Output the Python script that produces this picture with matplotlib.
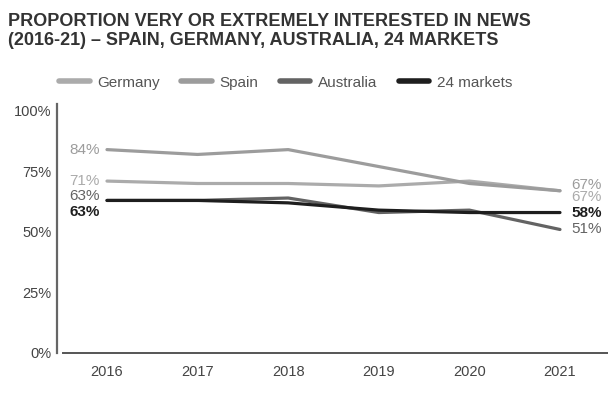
import matplotlib.pyplot as plt

plt.rcParams['font.family'] = ['Liberation Sans', 'DejaVu Sans']

years = [2016, 2017, 2018, 2019, 2020, 2021]
germany = [71, 70, 70, 69, 71, 67]
spain = [84, 82, 84, 77, 70, 67]
australia = [63, 63, 64, 58, 59, 51]
markets24 = [63, 63, 62, 59, 58, 58]

# name, values, colour, label nudge at 2016, label nudge at 2021
series = [
    ('Germany', germany, '#ababab', (0, 0), (0, -4.5)),
    ('Spain', spain, '#9c9c9c', (0, 0), (0, 4.5)),
    ('Australia', australia, '#636363', (0, 3), (0, 0)),
    ('24 markets', markets24, '#1e1e1e', (0, -8), (0, 0)),
]

fig = plt.figure(figsize=(6.08, 3.93), dpi=100)
ax = fig.add_axes([0.094, 0.102, 0.906, 0.622])

for name, vals, col, off_l, off_r in series:
    ax.plot(years, vals, color=col, lw=2.3, solid_capstyle='round',
            solid_joinstyle='round', label=name)
    weight = 'bold' if col == '#1e1e1e' else 'normal'
    ax.annotate(f'{vals[0]}%', (years[0], vals[0]), xytext=(-5 + off_l[0], off_l[1]),
                textcoords='offset points', ha='right', va='center',
                color=col, fontsize=11, fontweight=weight)
    ax.annotate(f'{vals[-1]}%', (years[-1], vals[-1]), xytext=(8 + off_r[0], off_r[1]),
                textcoords='offset points', ha='left', va='center',
                color=col, fontsize=11, fontweight=weight)

ax.set_xlim(2015.45, 2021.53)
ax.set_ylim(0, 101)
ax.set_xticks(years)
ax.set_yticks([0, 25, 50, 75, 100])
ax.set_yticklabels(['0%', '25%', '50%', '75%', '100%'])
ax.tick_params(length=0, labelsize=10.5, colors='#444444')
ax.tick_params(axis='x', pad=9)
ax.tick_params(axis='y', pad=4)
for s in ['top', 'right']:
    ax.spines[s].set_visible(False)
ax.spines['left'].set_color('#666666')
ax.spines['left'].set_linewidth(1.6)
ax.spines['left'].set_bounds(0, 103)
ax.spines['bottom'].set_color('#555555')
ax.spines['bottom'].set_linewidth(1.4)
ax.spines['bottom'].set_bounds(2015.51, 2021.53)

fig.text(0.013, 0.968, 'PROPORTION VERY OR EXTREMELY INTERESTED IN NEWS\n(2016-21) – SPAIN, GERMANY, AUSTRALIA, 24 MARKETS',
         ha='left', va='top', fontsize=13, color='#333333', fontweight='bold',
         linespacing=1.15)

leg = fig.legend(loc='center', bbox_to_anchor=(0.47, 0.79), ncol=4, frameon=False,
                 fontsize=11, handlelength=2.0, columnspacing=1.4, handletextpad=0.5,
                 labelcolor='#555555')
for h in leg.get_lines():
    h.set_linewidth(4)

fig.savefig('out.png', dpi=100)
